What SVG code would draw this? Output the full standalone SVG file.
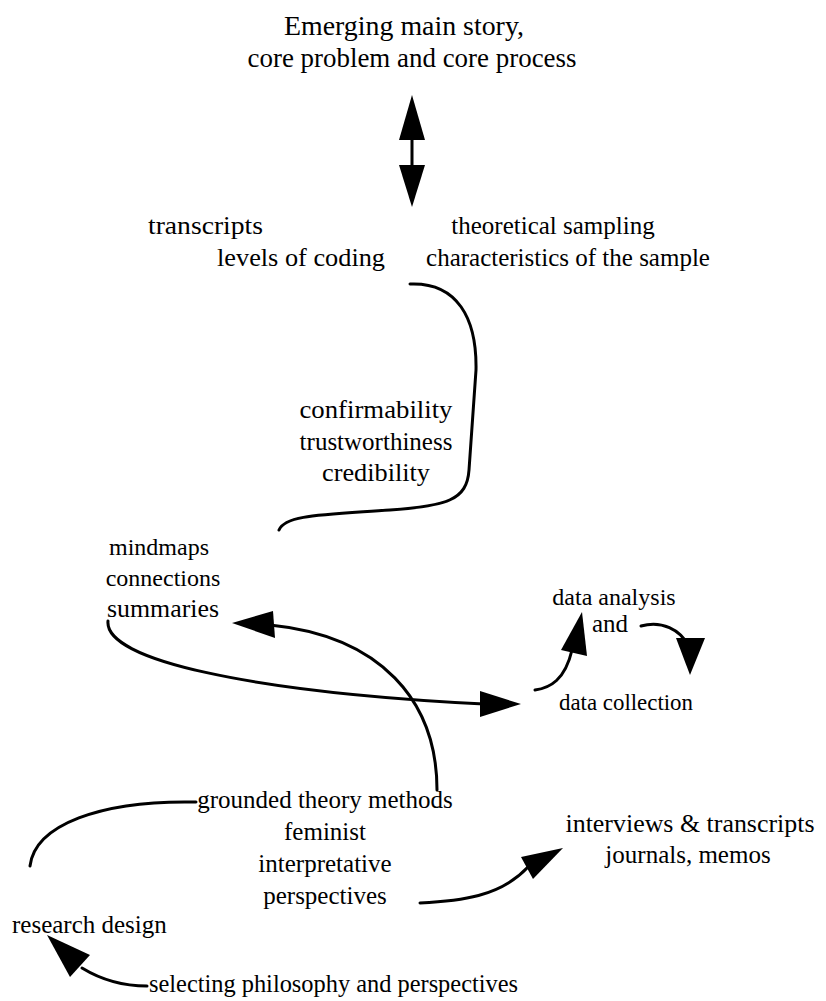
<svg xmlns="http://www.w3.org/2000/svg" width="826" height="1001" viewBox="0 0 826 1001">
  <style>
    text { font-family: "Liberation Serif", "Times New Roman", serif; font-size: 25px; fill: #000; }
    .c { text-anchor: middle; }
    .title { font-size: 27px; }
    .small { font-size: 24px; }
    .line { fill: none; stroke: #000; stroke-width: 3; stroke-linecap: round; }
    .head { fill: #000; stroke: none; }
  </style>
  <rect width="826" height="1001" fill="#fff"/>

  <g id="core-story">
    <text class="c title" x="404" y="35" textLength="240" lengthAdjust="spacingAndGlyphs">Emerging main story,</text>
    <text class="c title" x="412" y="67" textLength="329" lengthAdjust="spacingAndGlyphs">core problem and core process</text>
  </g>
  <g id="coding">
    <text x="148" y="234" textLength="115" lengthAdjust="spacingAndGlyphs">transcripts</text>
    <text x="217" y="266" textLength="168" lengthAdjust="spacingAndGlyphs">levels of coding</text>
  </g>
  <g id="sampling">
    <text class="c" x="553" y="234">theoretical sampling</text>
    <text class="c" x="568" y="266">characteristics of the sample</text>
  </g>
  <g id="quality">
    <text class="c" x="376" y="418" textLength="153" lengthAdjust="spacingAndGlyphs">confirmability</text>
    <text class="c" x="376" y="450">trustworthiness</text>
    <text class="c" x="376" y="481" textLength="108" lengthAdjust="spacingAndGlyphs">credibility</text>
  </g>
  <g id="mapping">
    <text class="c small" x="159" y="555">mindmaps</text>
    <text class="c small" x="163" y="586">connections</text>
    <text class="c" x="163" y="617" textLength="112" lengthAdjust="spacingAndGlyphs">summaries</text>
  </g>
  <g id="analysis">
    <text class="c small" x="614" y="605">data analysis</text>
    <text class="c" x="610" y="632">and</text>
  </g>
  <g id="collection">
    <text class="small" x="559" y="710" textLength="134" lengthAdjust="spacingAndGlyphs">data collection</text>
  </g>
  <g id="methods">
    <text class="c" x="325" y="808">grounded theory methods</text>
    <text class="c" x="325" y="840">feminist</text>
    <text class="c" x="325" y="872">interpretative</text>
    <text class="c" x="325" y="904">perspectives</text>
  </g>
  <g id="sources">
    <text class="c" x="690" y="832" textLength="249" lengthAdjust="spacingAndGlyphs">interviews &amp; transcripts</text>
    <text class="c" x="688" y="863">journals, memos</text>
  </g>
  <g id="design">
    <text x="12" y="933">research design</text>
  </g>
  <g id="philosophy">
    <text x="149" y="992" textLength="369" lengthAdjust="spacingAndGlyphs">selecting philosophy and perspectives</text>
  </g>

  <g id="connectors">
    <!-- two-way link between the core story and the coding level -->
    <line class="line" x1="412" y1="130" x2="412" y2="175"/>
    <polygon class="head" points="412,95 425,140 399,140"/>
    <polygon class="head" points="412,207 425,165 399,165"/>
    <!-- S-curve from coding down to the mind maps -->
    <path class="line" d="M 410 284 C 457 282 477 318 476 370 L 469 470 C 467 500 447 506 390 510 C 320 515 285 515 279 530"/>
    <!-- summaries to data collection -->
    <path class="line" d="M 108 621 C 104 660 250 692 484 704"/>
    <polygon class="head" points="521,704 480,691 480,717"/>
    <!-- methods up to summaries -->
    <path class="line" d="M 437 790 C 437 700 380 636 270 625"/>
    <polygon class="head" points="232,623 273,611 275,638"/>
    <!-- analysis / collection cycle -->
    <path class="line" d="M 535 690 C 550 688 565 680 572 650"/>
    <polygon class="head" points="582,612 561,650 587,656"/>
    <path class="line" d="M 641 626 C 662 620 680 630 688 645"/>
    <polygon class="head" points="690,675 676,638 705,638"/>
    <!-- perspectives to interviews -->
    <path class="line" d="M 420 903 C 460 901 500 897 528 867"/>
    <polygon class="head" points="563,848 521,857 533,879"/>
    <!-- methods back to research design -->
    <path class="line" d="M 196 802 C 100 800 35 825 30 866"/>
    <!-- philosophy to research design -->
    <path class="line" d="M 147 986 C 122 986 100 979 82 968"/>
    <polygon class="head" points="47,935 70,977 90,955"/>
  </g>
</svg>
